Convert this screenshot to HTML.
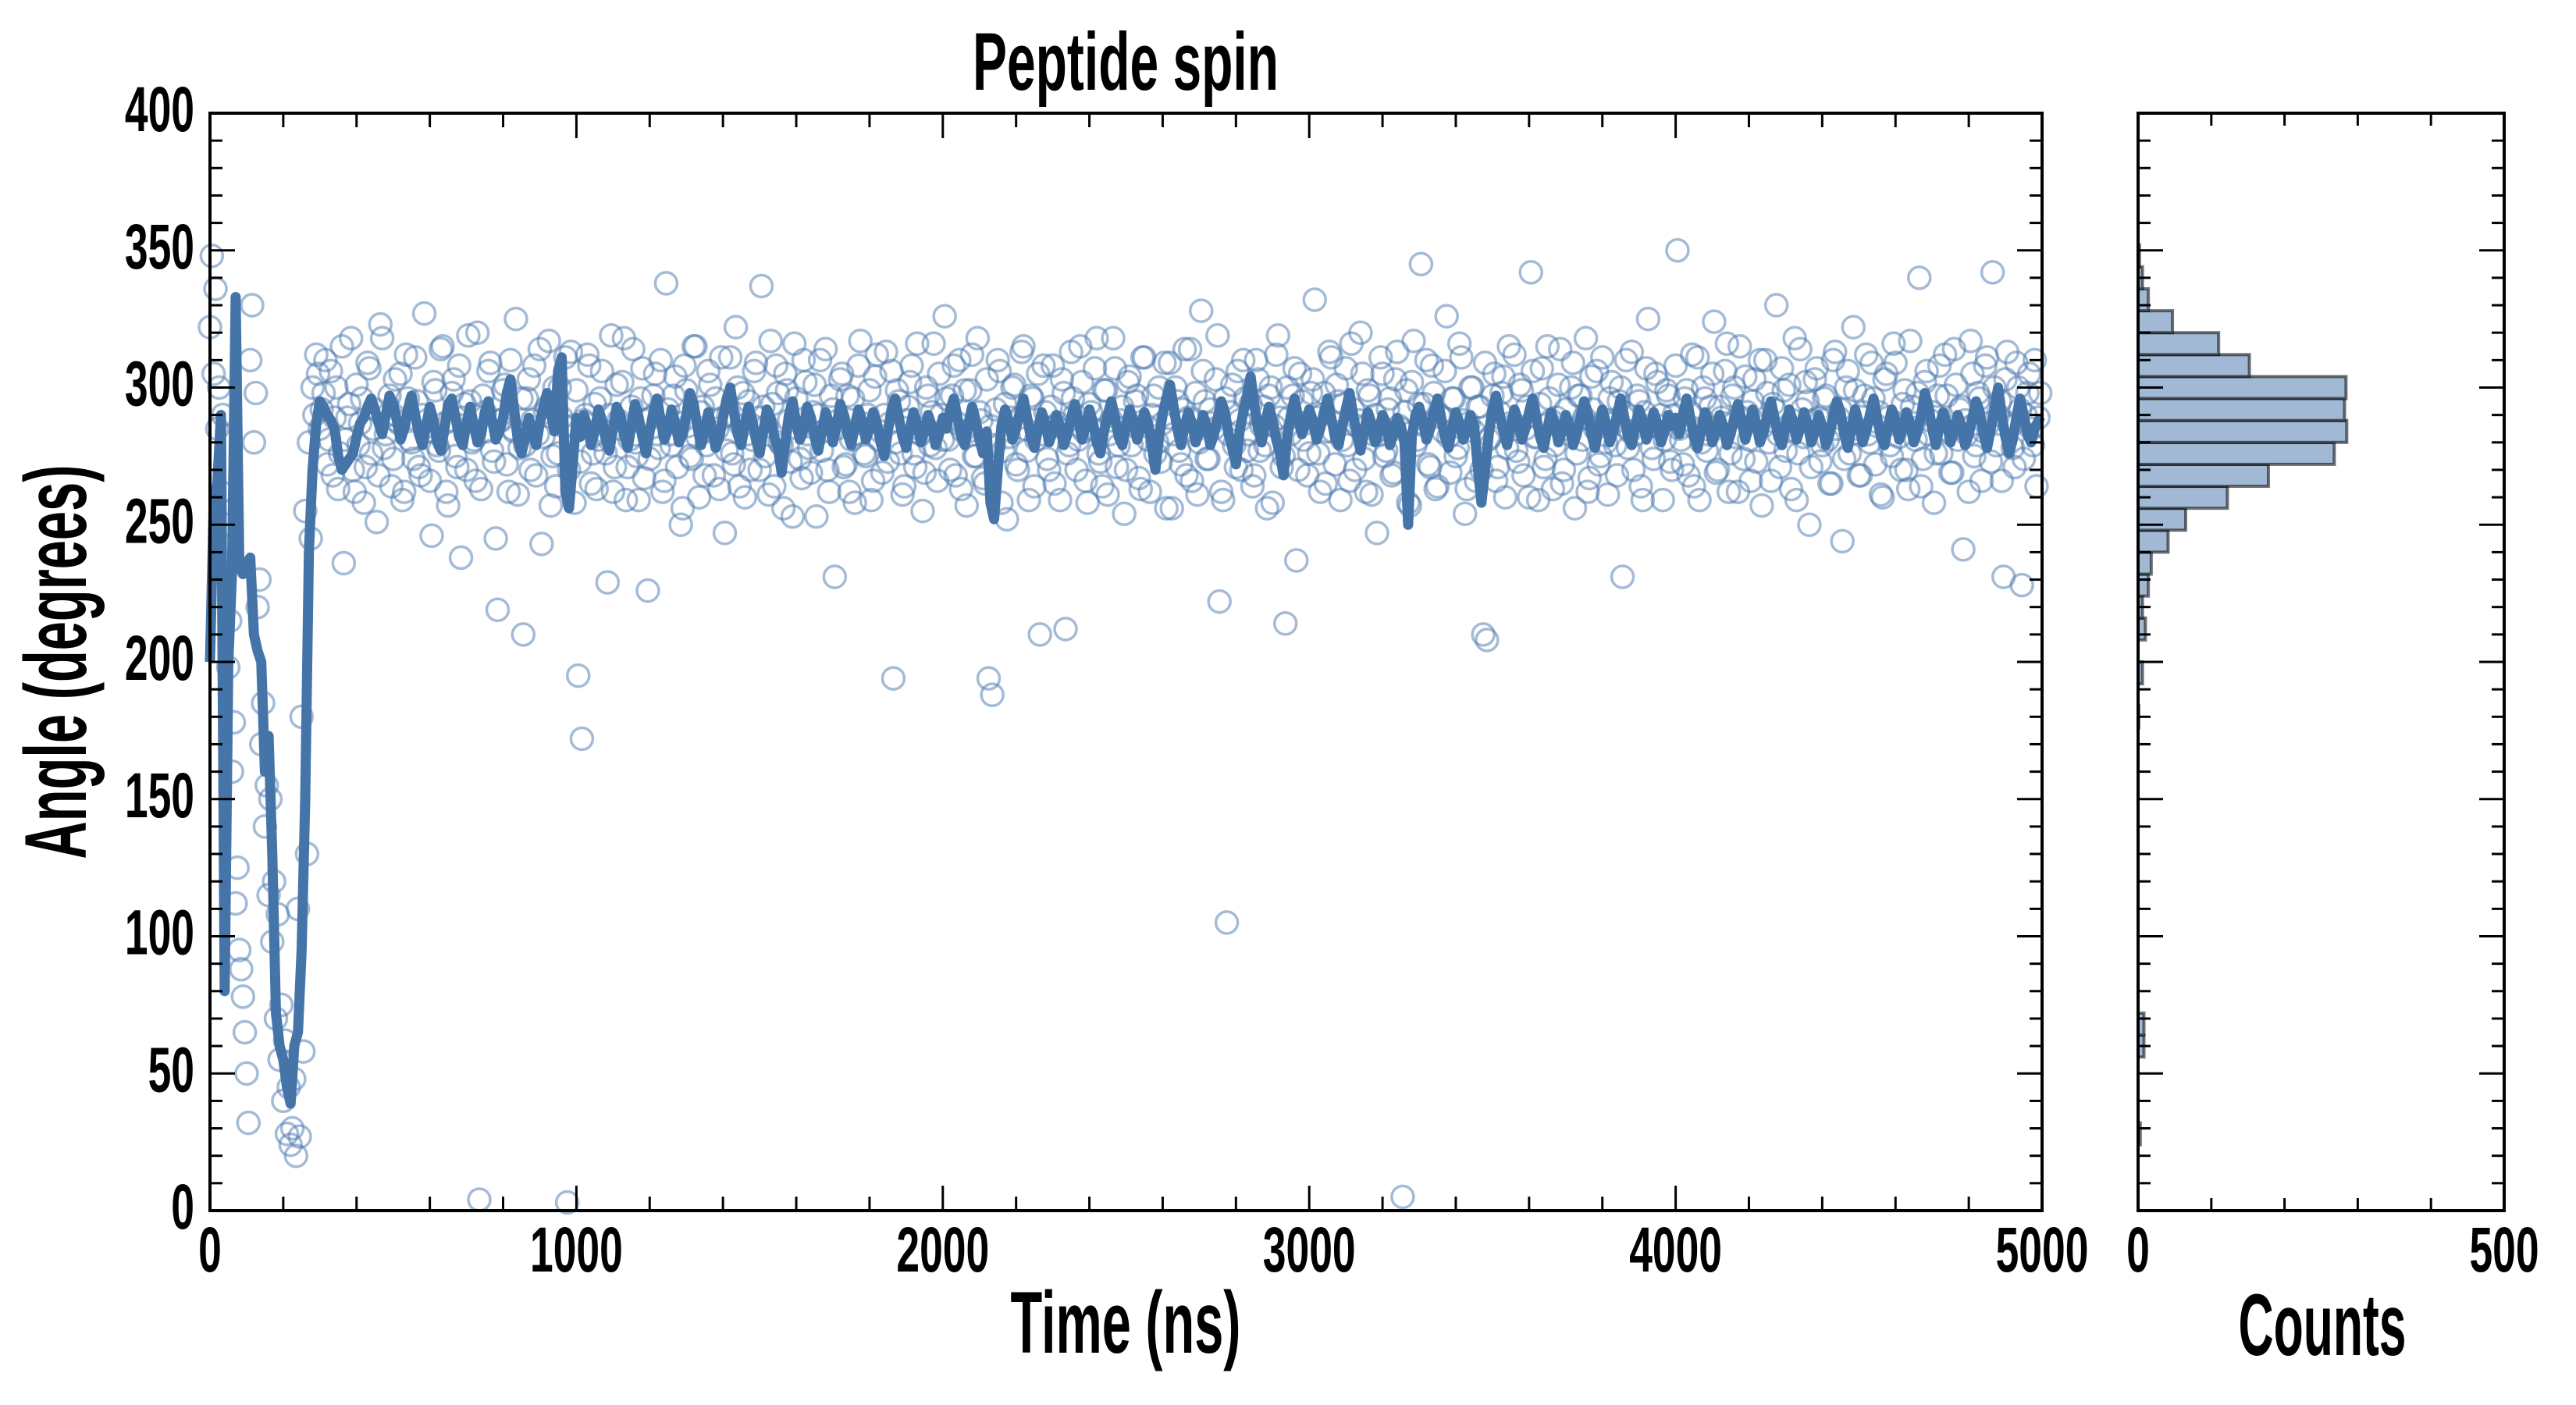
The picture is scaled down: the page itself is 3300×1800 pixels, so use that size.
<!DOCTYPE html>
<html><head><meta charset="utf-8"><style>
html,body{margin:0;padding:0;background:#fff;}
svg{display:block;}
text{font-family:"Liberation Sans Narrow","Liberation Sans",sans-serif;font-weight:bold;fill:#000;}
</style></head><body>
<svg id="chart" xmlns="http://www.w3.org/2000/svg" width="3300" height="1800" viewBox="0 0 3300 1800">
<rect width="3300" height="1800" fill="#fff"/>
<g id="main"></g>
<g id="hist"></g>
<text x="1442" y="115" font-size="105" text-anchor="middle" textLength="392" lengthAdjust="spacingAndGlyphs">Peptide spin</text>
<text x="1442" y="1733" font-size="112" text-anchor="middle" textLength="295" lengthAdjust="spacingAndGlyphs">Time (ns)</text>
<text transform="translate(110,848) rotate(-90)" x="0" y="0" font-size="112" text-anchor="middle" textLength="505" lengthAdjust="spacingAndGlyphs">Angle (degrees)</text>
<text x="2975" y="1736" font-size="112" text-anchor="middle" textLength="215" lengthAdjust="spacingAndGlyphs">Counts</text>
</svg>
<script>
const scatterStep = 10;
const scatterValues = [
348,336,300,290,250,215,178,125,88,65,32,330,298,230,185,155,150,120,108,75,62,45,30,20,27,58,130,245,290,305,
292,310,281,268,300,276,236,289,318,262,279,296,271,307,285,251,323,278,290,264,303,287,259,312,281,274,295,268,327,284,
246,299,277,315,262,288,303,271,238,294,319,280,266,4,297,284,309,273,219,288,301,262,285,325,278,210,296,270,308,283,
243,291,317,275,264,300,286,3,313,258,
195,172,290,308,276,263,296,284,229,319,271,288,302,259,281,314,275,296,267,226,289,305,278,262,338,283,297,271,250,308,
286,274,315,260,293,279,301,268,285,311,247,290,276,322,264,298,283,270,306,289,
337,275,261,294,308,280,256,299,273,316,285,267,302,278,291,253,310,284,270,297,
231,288,305,272,262,296,283,317,276,290,259,304,281,269,313,287,194,299,276,264,
293,308,271,285,255,300,279,316,266,290,
326,281,297,268,310,284,257,299,275,318,288,265,194,188,292,306,277,252,289,301,
270,313,285,259,296,281,210,308,274,293,265,287,303,212,279,296,270,315,284,258,
291,307,276,264,299,283,318,271,288,254,302,279,295,267,311,286,262,297,280,273,
309,289,256,300,277,292,268,314,284,261,328,295,274,287,303,222,259,105,291,279,
306,270,296,283,264,310,277,293,256,300,286,319,271,214,289,297,237,305,281,268,
298,332,276,290,265,313,284,301,259,294,279,316,270,288,305,262,297,283,247,311,
275,292,268,303,286,5,299,257,317,281,345,294,272,308,263,290,284,326,269,296,
278,311,254,287,300,266,293,210,208,282,305,271,298,260,315,286,277,301,268,293,
342,282,259,307,274,296,263,289,314,270,285,300,256,297,281,318,267,292,306,275,
288,261,302,279,295,231,310,284,270,297,264,291,325,278,305,286,259,299,273,290,
350,281,296,268,312,285,259,300,277,293,324,270,289,306,262,297,282,315,274,291,
266,303,287,257,310,280,294,330,271,299,284,263,318,276,292,302,250,288,307,273,
296,281,265,313,289,244,300,276,322,285,268,297,283,309,272,291,260,305,279,316,
287,270,299,263,293,281,340,274,306,288,258,297,276,312,284,269,301,292,241,283,
317,275,298,266,308,287,342,279,295,231,313,286,271,300,228,290,305,279,264,298
];
const scatterValuesB = [
322,305,285,262,236,198,160,112,95,78,50,310,280,220,170,140,115,98,70,55,40,28,24,48,110,180,255,280,300,312,
285,298,272,306,289,263,315,281,294,270,301,287,258,309,276,292,268,318,283,297,
274,288,305,262,296,280,311,271,290,284,
266,302,279,314,287,257,298,275,308,289,270,295,281,320,263,291,306,277,245,288,
299,272,310,284,261,296,279,303,288,268,314,282,293,257,300,276,289,311,270,286,
299,273,288,312,265,294,281,306,276,290,262,301,285,318,271,293,280,259,307,288,
274,297,283,310,266,292,279,304,287,256,299,275,315,282,291,268,306,284,296,263,
289,277,311,272,300,286,260,295,281,309,
270,293,286,317,264,298,279,305,288,253,296,274,310,283,269,301,290,277,314,262,
292,285,303,271,297,281,258,308,287,275,299,266,312,284,290,273,306,280,295,261,
288,302,276,316,283,269,297,291,278,305,
281,296,270,308,287,263,299,284,312,275,291,267,303,286,279,310,258,294,282,300,
272,289,315,277,297,264,305,283,291,270,308,286,259,298,276,313,290,281,302,266,
294,285,318,273,299,261,288,307,279,293,
270,304,286,297,263,311,281,290,276,300,287,256,309,283,295,272,314,289,266,298,
280,306,274,292,285,319,262,296,283,301,271,288,310,277,294,268,303,286,279,297,
258,312,289,275,300,283,307,270,295,287,
276,303,289,262,298,284,311,272,295,281,307,266,292,286,320,274,299,261,290,283,
305,277,296,269,313,285,291,258,302,279,294,287,310,271,298,264,289,306,282,296,
275,316,288,263,300,284,293,270,309,281,
297,266,291,304,278,287,312,273,299,285,260,306,282,294,271,315,288,279,301,265,
292,283,309,276,297,289,262,304,285,272,311,280,296,287,268,300,291,278,313,283,
295,259,307,286,274,302,290,281,297,270,
308,285,272,299,291,264,311,280,296,283,305,269,293,287,316,276,300,262,289,304,
281,295,273,310,286,298,266,292,283,307,277,301,288,259,314,282,295,271,303,289,
279,297,265,310,285,292,274,306,283,299,
268,291,312,280,296,286,261,303,289,275,309,282,294,270,317,287,298,264,302,283,
291,276,308,285,297,269,314,281,293,288,262,305,279,296,284,311,273,300,290,266,
303,287,278,309,292,274,298,285,310,289
];
const lineStep = 10;
const lineValues = [
200,257,265,290,80,200,232,333,235,232,236,238,210,204,200,160,173,130,72,60,55,45,39,60,65,95,150,240,270,287,295,293,290,288,285,275,270,272,274,276,282,287,
289,293,296,292,287,283,290,297,294,288,281,285,292,297,290,283,279,286,293,288,280,277,285,294,296,289,282,279,287,293,
286,280,283,291,295,288,281,284,289,298,303,292,281,276,282,289,284,279,287,293,298,291,284,306,311,262,256,272,289,
282,290,286,279,284,292,288,281,277,285,293,290,283,278,286,294,289,282,276,284,
291,296,288,281,285,292,287,280,283,290,298,294,286,279,284,291,285,278,282,289,
296,300,291,283,279,287,293,288,281,276,284,292,289,282,278,269,280,290,295,287,
281,285,293,289,282,277,284,291,287,280,286,294,290,283,279,286,292,288,281,285,
291,287,280,275,284,292,296,289,282,278,285,291,287,280,284,290,286,279,283,289,
285,292,296,289,282,279,287,293,288,281,276,284,258,252,270,286,292,288,281,285,
291,296,289,282,278,285,291,287,280,284,290,286,279,283,289,294,288,281,286,292,
287,280,276,284,290,295,289,282,279,286,292,288,281,285,291,287,279,270,282,290,
296,301,293,285,279,286,291,287,280,284,290,286,279,283,289,295,291,283,278,272,
284,291,297,304,294,285,280,287,293,288,281,276,268,282,290,296,289,283,287,292,
288,281,285,291,296,289,282,279,286,292,298,290,283,277,284,291,287,280,284,290,
287,279,283,289,286,280,250,282,290,293,288,281,285,291,296,289,282,278,285,291,
287,281,284,290,286,271,258,270,283,292,297,290,284,279,286,292,288,281,285,291,
296,289,282,278,285,291,287,280,284,290,286,279,283,289,295,291,283,278,285,292,
287,280,284,290,296,289,282,279,286,292,288,281,285,291,287,280,284,290,286,289,
283,290,296,289,282,278,285,291,287,280,284,290,286,279,283,289,294,288,281,286,
292,287,280,284,290,295,289,282,279,286,292,288,281,285,291,287,280,284,290,286,
279,283,289,295,291,283,278,285,292,287,280,284,290,296,289,282,279,286,292,288,
281,285,291,287,280,284,290,298,293,285,279,286,291,287,280,284,290,286,279,283,
289,295,291,283,278,285,292,300,290,282,276,281,289,296,290,283,280,285,288,287
];
const histBinEdges = [24,32,56,64,72,176,184,192,200,208,216,224,232,240,248,256,264,272,280,288,296,304,312,320,328,336,344,352];
const histCounts   = [3,0,8,8,0,1,0,6,0,10,6,14,18,41,65,122,178,268,285,282,284,152,110,47,14,6,2];
const xTicks = [0,1000,2000,3000,4000,5000];
const yTicks = [0,50,100,150,200,250,300,350,400];
const countTicks = [0,500];

const NS='http://www.w3.org/2000/svg';
const M={l:269,r:2616,t:145,b:1551}, H={l:2739,r:3208};
const xs=t=>M.l+(t-0)/5000*(M.r-M.l);
const ys=v=>M.b-(v-0)/400*(M.b-M.t);
const cs=c=>H.l+c/500*(H.r-H.l);
function mk(tag,attrs,parent){const e=document.createElementNS(NS,tag);for(const k in attrs)e.setAttribute(k,attrs[k]);parent.appendChild(e);return e;}
const main=document.getElementById('main'), hist=document.getElementById('hist');

// scatter
const sg=mk('g',{},main);


function dot(t,v){
  const c=mk('circle',{cx:xs(t),cy:ys(v),r:14,fill:'none',stroke:'#4a78ad','stroke-opacity':0.5,'stroke-width':3.5},sg);
  
  
}
scatterValues.forEach((v,i)=>dot(i*scatterStep+5,v));
scatterValuesB.forEach((v,i)=>dot(i*scatterStep,v));
// line
let d='';lineValues.forEach((v,i)=>{d+=(i?'L':'M')+xs(i*lineStep).toFixed(1)+' '+ys(v).toFixed(1);});
const ln=mk('path',{d:d,fill:'none',stroke:'#4575a8','stroke-width':13,'stroke-linejoin':'round'},main);



// histogram bars
histCounts.forEach((c,i)=>{
  if(c<=0)return;
  const y1=ys(histBinEdges[i+1]),y2=ys(histBinEdges[i]);
  const b=mk('rect',{x:H.l,y:y1,width:cs(c)-H.l,height:y2-y1,fill:'#a1b9d4',stroke:'#000','stroke-opacity':0.55,'stroke-width':4},hist);
  
  
});

function frame(g,l,r){
  const f=mk('rect',{x:l,y:M.t,width:r-l,height:M.b-M.t,fill:'none',stroke:'#000','stroke-width':4},g);
  
  
}
function tk(g,x1,y1,x2,y2){mk('line',{x1:x1,y1:y1,x2:x2,y2:y2,stroke:'#000','stroke-width':3},g);}
function lbl(g,x,y,s,anchor,name){
  const t=mk('text',{x:x,y:y,'font-size':82,'text-anchor':anchor,textLength:29.7*String(s).length,lengthAdjust:'spacingAndGlyphs'},g);
  t.textContent=s;
  
  
}
const mt=mk('g',{},main);


for(let v=0;v<=400;v+=10){const y=ys(v),L=(v%50===0)?32:16;tk(mt,M.l,y,M.l+L,y);tk(mt,M.r,y,M.r-L,y);tk(hist,H.l,y,H.l+L,y);tk(hist,H.r,y,H.r-L,y);}
for(let t=0;t<=5000;t+=200){const x=xs(t),L=(t%1000===0)?32:18;tk(mt,x,M.b,x,M.b-L);tk(mt,x,M.t,x,M.t+L);}
for(let c=0;c<=500;c+=100){const x=cs(c),L=(c%500===0)?32:16;tk(hist,x,M.b,x,M.b-L);tk(hist,x,M.t,x,M.t+L);}
yTicks.forEach(v=>lbl(main,249,ys(v)+23,v,'end','y-tick-label'));
xTicks.forEach(t=>lbl(main,xs(t),1629,t,'middle','x-tick-label'));
countTicks.forEach(c=>lbl(hist,cs(c),1629,c,'middle','count-tick-label'));
frame(main,M.l,M.r);
frame(hist,H.l,H.r);
</script>
</body></html>
